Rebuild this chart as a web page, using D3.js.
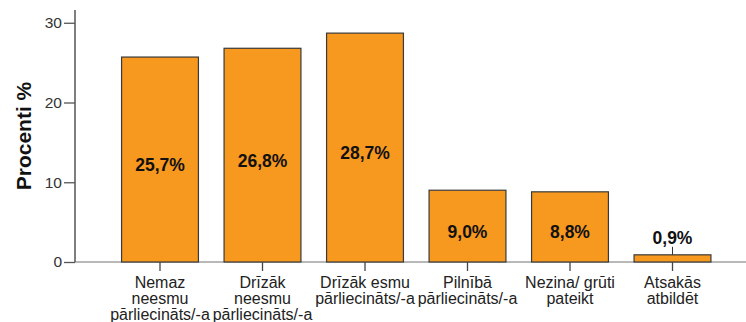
<!DOCTYPE html>
<html>
<head>
<meta charset="utf-8">
<script src="https://cdn.jsdelivr.net/npm/d3@7"></script>
<style>
  html, body { margin: 0; padding: 0; background: #fff; }
  svg { display: block; font-family: "Liberation Sans", Arial, sans-serif; }
</style>
</head>
<body>
<svg id="chart" width="746" height="322"></svg>
<script>
// Response categories (each label split into display lines)
const categories = [
  ["Nemaz", "neesmu", "pārliecināts/-a"],
  ["Drīzāk", "neesmu", "pārliecināts/-a"],
  ["Drīzāk esmu", "pārliecināts/-a"],
  ["Pilnībā", "pārliecināts/-a"],
  ["Nezina/ grūti", "pateikt"],
  ["Atsakās", "atbildēt"]
];
// Share of respondents, percent
const values = [25.7, 26.8, 28.7, 9.0, 8.8, 0.9];
const yTicks = [0, 10, 20, 30];

const svg = d3.select("#chart");
const x0 = 75, yBase = 262, yTop = 10;

const x = d3.scaleBand()
  .domain(d3.range(categories.length))
  .range([108.75, 723.75])
  .paddingInner(0.25)
  .paddingOuter(0.125);

const y = d3.scaleLinear().domain([0, 31.6]).range([yBase, yTop]);

// baseline across the plot
svg.append("line")
  .attr("x1", x0).attr("x2", 746)
  .attr("y1", yBase).attr("y2", yBase)
  .attr("stroke", "#a0a0a0").attr("stroke-width", 1.5);

// bars
svg.append("g").selectAll("rect")
  .data(values)
  .join("rect")
  .attr("x", (d, i) => x(i))
  .attr("y", d => y(d))
  .attr("width", x.bandwidth())
  .attr("height", d => yBase - y(d))
  .attr("fill", "#F7981F")
  .attr("stroke", "#3a3a3a")
  .attr("stroke-width", 1.2);

// y axis
const yAxis = d3.axisLeft(y).tickValues(yTicks).tickSize(11).tickPadding(2);
const gy = svg.append("g").attr("transform", `translate(${x0},0)`).call(yAxis);
gy.select(".domain").attr("stroke", "#555").attr("stroke-width", 1.5).attr("d", `M0,${yBase}V${yTop}`);
gy.selectAll(".tick line").attr("stroke", "#555").attr("stroke-width", 1.3);
gy.selectAll(".tick text")
  .attr("fill", "#333")
  .style("font-size", "15.5px")
  .style("font-family", "'Liberation Sans', Arial, sans-serif");

// x axis ticks and multi-line labels
const gx = svg.append("g");
categories.forEach((lines, i) => {
  const cx = x(i) + x.bandwidth() / 2;
  gx.append("line")
    .attr("x1", cx).attr("x2", cx)
    .attr("y1", yBase).attr("y2", yBase + 9)
    .attr("stroke", "#444").attr("stroke-width", 1.3);
  const t = gx.append("text")
    .attr("text-anchor", "middle")
    .attr("fill", "#222")
    .style("font-size", "16px");
  lines.forEach((ln, k) => {
    t.append("tspan").attr("x", cx).attr("y", 288 + k * 15.8).text(ln);
  });
});

// value labels
const fmt = d => d.toFixed(1).replace(".", ",") + "%";
values.forEach((v, i) => {
  const cx = x(i) + x.bandwidth() / 2;
  const barH = yBase - y(v);
  let ty;
  if (barH > 40) {
    ty = (y(v) + yBase) / 2 + 11.5;
  } else {
    // small bar: label sits above with a short leader line
    ty = y(v) - 11;
    svg.append("line")
      .attr("x1", cx).attr("x2", cx)
      .attr("y1", y(v) - 8).attr("y2", y(v))
      .attr("stroke", "#333").attr("stroke-width", 1);
  }
  svg.append("text")
    .attr("x", cx).attr("y", ty)
    .attr("text-anchor", "middle")
    .attr("fill", "#111")
    .style("font-size", "17.5px")
    .style("font-weight", "bold")
    .text(fmt(v));
});

// y axis title
svg.append("text")
  .attr("transform", `translate(31,${136}) rotate(-90)`)
  .attr("text-anchor", "middle")
  .attr("fill", "#111")
  .style("font-size", "21px")
  .style("font-weight", "bold")
  .text("Procenti %");
</script>
</body>
</html>
